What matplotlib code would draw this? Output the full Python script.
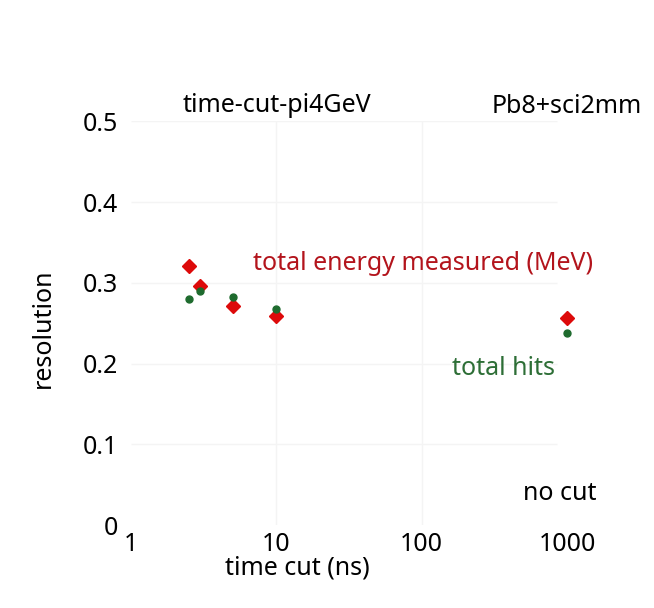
import numpy as np
import matplotlib
matplotlib.use("Agg")
import matplotlib.pyplot as plt

plt.rcParams['font.family'] = ['Noto Sans', 'DejaVu Sans']

## data
time_cut = [2.5, 3, 5, 10, 1000]
res_energy = [0.321, 0.296, 0.271, 0.259, 0.257]
res_hits = [0.280, 0.290, 0.283, 0.268, 0.238]

x_ticks = [1, 10, 100, 1000]
x_tick_labels = ['1', '10', '100', '1000']
y_ticks = [0, 0.1, 0.2, 0.3, 0.4, 0.5]
y_tick_labels = ['0', '0.1', '0.2', '0.3', '0.4', '0.5']

red = '#dd0a0a'
red_text = '#b3141c'
green = '#1e6b2e'
green_text = '#2d6e36'
grid_col = '#f4f4f4'
fs = 18

fig = plt.figure(figsize=(6.54, 6.08), dpi=100)
ax = fig.add_axes([0.2003, 0.1365, 0.6667, 0.6637])

ax.set_xscale('log')
ax.set_xlim(1, 1000)
ax.set_ylim(0, 0.5)

# faint grid, horizontal lines stop a bit short of 1000 like the original
ax.hlines(y_ticks[1:], 1, 850, color=grid_col, lw=1, zorder=0)
ax.vlines([10, 100], 0, 0.5, color=grid_col, lw=1, zorder=0)

ax.plot(time_cut, res_energy, 'D', ms=6.8, color=red, mec=red, clip_on=False, zorder=3)
ax.plot(time_cut, res_hits, 'o', ms=5, color=green, mec=green, clip_on=False, zorder=4)

for s in ax.spines.values():
    s.set_visible(False)

ax.set_xticks(x_ticks)
ax.set_xticklabels(x_tick_labels)
ax.xaxis.set_minor_locator(matplotlib.ticker.NullLocator())
ax.set_yticks(y_ticks)
ax.set_yticklabels(y_tick_labels)
ax.tick_params(axis='both', length=0, labelsize=fs)
ax.tick_params(axis='x', pad=5)
ax.tick_params(axis='y', pad=9)

ax.set_xlabel('time cut (ns)', fontsize=fs)
ax.xaxis.set_label_coords(0.381, -0.107)
ax.xaxis.label.set_va('center')
ax.set_ylabel('resolution', fontsize=fs)
ax.yaxis.set_label_coords(-0.202, 0.488)
ax.yaxis.label.set_va('center')

ax.text(0.335, 1.0235, 'time-cut-pi4GeV', transform=ax.transAxes,
        ha='center', va='baseline', fontsize=fs, color='black')
ax.text(1.172, 1.021, 'Pb8+sci2mm', transform=ax.transAxes,
        ha='right', va='baseline', fontsize=fs, color='black')
ax.text(0.280, 0.632, 'total energy measured (MeV)', transform=ax.transAxes,
        ha='left', va='baseline', fontsize=fs, color=red_text)
ax.text(0.736, 0.372, 'total hits', transform=ax.transAxes,
        ha='left', va='baseline', fontsize=fs, color=green_text)
ax.text(1.0665, 0.062, 'no cut', transform=ax.transAxes,
        ha='right', va='baseline', fontsize=fs, color='black')

fig.savefig('out.png', dpi=100)
